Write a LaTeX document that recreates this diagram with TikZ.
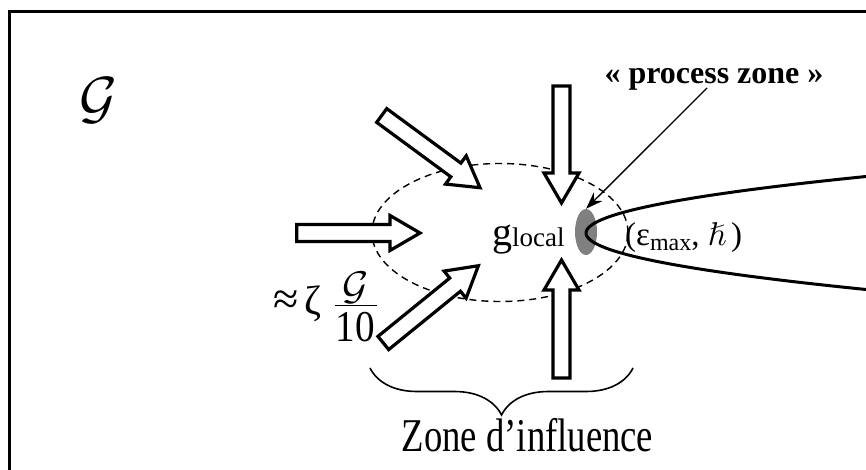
\documentclass[tikz,border=0pt]{standalone}
\usepackage{amssymb}
\usepackage{graphicx}
\usepackage{fontspec}
\setmainfont{Liberation Serif}
\DeclareFontShape{OMS}{cmsy}{m}{n}{<->cmsy10}{}
\DeclareFontShape{OML}{cmm}{m}{it}{<->cmmi10}{}
\usetikzlibrary{decorations.pathreplacing,arrows.meta,shapes.geometric}
\newcommand\blockarrow[3]{\draw[barrow, shift={(#1)}, rotate=#2] (0,-8.5) -- ({#3-30},-8.5) -- ({#3-30},-17.5) -- (#3,0) -- ({#3-30},17.5) -- ({#3-30},8.5) -- (0,8.5) -- cycle;}
\newcommand\fsz[1]{\fontsize{#1}{#1}\selectfont}
\tikzset{
  barrow/.style={draw, fill=white, line width=3.2pt, line join=miter},
  zonestyle/.style={ellipse, draw, dash pattern=on 7pt off 5pt, line width=1.4pt, minimum width=256pt, minimum height=138pt, inner sep=0pt},
  pzstyle/.style={ellipse, fill=gray, minimum width=22pt, minimum height=46pt, inner sep=0pt},
  crack/.style={line width=3pt},
  pointer/.style={line width=1.3pt, -{Stealth[length=17pt,width=12pt]}},
  bracestyle/.style={decorate, decoration={brace, amplitude=47pt}, line width=1.6pt},
  frame/.style={line width=3pt},
  txt/.style={inner sep=0pt}
}
\begin{document}
\begin{tikzpicture}[x=1pt,y=-1pt]
\clip (0,0) rectangle (866,470);
\draw[frame] (9.5,12) rectangle (900,500);
% calligraphic G
\node[txt, font=\fsz{58}] (G) at (98,101) {$\mathcal{G}$};
% influence zone
\node[zonestyle] (zone) at (500,232.5) {};
% block arrows
\blockarrow{381.7,115.5}{-36.3}{122}
\blockarrow{296.7,233}{0}{123.3}
\blockarrow{383.3,343}{39.1}{122.5}
\blockarrow{561.5,86}{-90}{117}
\blockarrow{561.5,378}{90}{118}
% process zone
\node[pzstyle] (pzone) at (586,232) {};
\draw[crack] plot[domain=-62:62, samples=80, smooth] ({586+\x*\x/11.4},{233+\x});
\node[txt, anchor=base, font=\bfseries\fsz{32}] (pzlabel) at (714,84) {« process zone »};
\coordinate (pzfrom) at (707,88);
\draw[pointer] (pzfrom) -- (pzone.north);
% local texts
\node[txt, anchor=base west, font=\fsz{40}] (glocal) at (492,245) {g\raisebox{-1pt}{\fsz{27}local}};
\node[txt, anchor=base west, font=\fsz{33}] (epsh) at (625,245) {(ε\raisebox{-5pt}{\fsz{24}max}, $\hslash$\,)};
% approx zeta G/10
\node[txt, font=\fsz{46}] (approx) at (286,303) {≈};
\node[txt, font=\fsz{41}] (zeta) at (313,304) {ζ};
\node[txt, font=\fsz{40}] (num) at (355.5,288) {$\mathcal{G}$};
\coordinate (barL) at (335,305.7);
\coordinate (barR) at (376.7,305.7);
\draw[line width=1.5pt] (barL) -- (barR);
\node[txt, font=\fsz{44}] (den) at (355.5,326.7) {\scalebox{0.89}[1]{10}};
% brace
\coordinate (brR) at (633,368);
\coordinate (brL) at (370,368);
\draw[bracestyle] (brR) -- (brL);
\node[txt, anchor=base, font=\fsz{47}] (zlabel) at (527.5,451.7) {\scalebox{0.78}[1]{Zone d’influence}};
\end{tikzpicture}
\end{document}
